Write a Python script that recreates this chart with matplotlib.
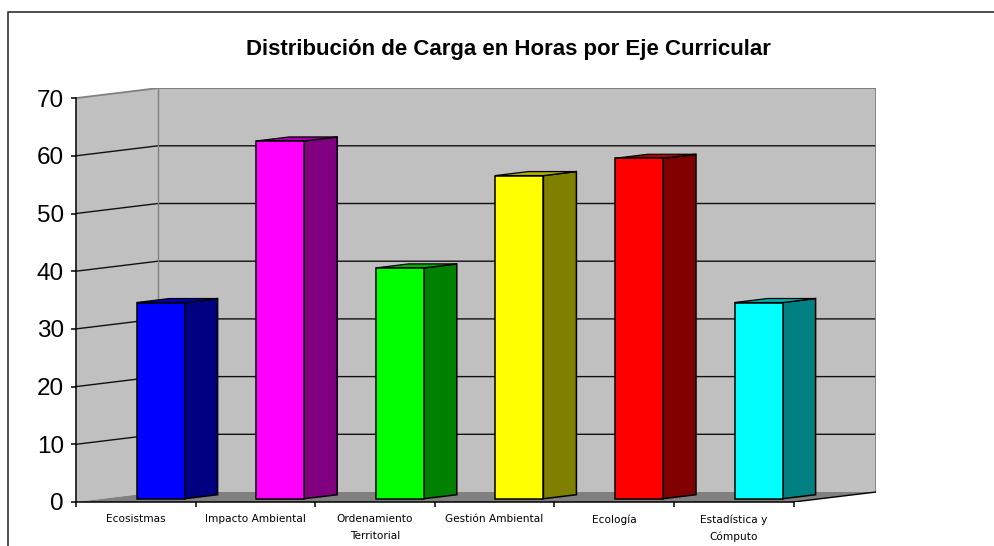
import matplotlib
matplotlib.use("Agg")
import matplotlib.pyplot as plt
from matplotlib.lines import Line2D

categories = ["Ecosistmas", "Impacto Ambiental", "Ordenamiento\nTerritorial",
              "Gestión Ambiental", "Ecología", "Estadística y\nCómputo"]
horas = [34, 62, 40, 56, 59, 34]
front_colors = ["#0000FF", "#FF00FF", "#00FF00", "#FFFF00", "#FF0000", "#00FFFF"]
side_colors = ["#000080", "#800080", "#008000", "#808000", "#800000", "#008080"]
top_colors = ["#0000B0", "#A800A8", "#00B000", "#B0B000", "#B00000", "#00B0B0"]
y_ticks = [0, 10, 20, 30, 40, 50, 60, 70]

W, H = 995, 546
# profundidad del piso y de las barras, en unidades de datos
px_x = 119.6
px_y = 5.77
wall_dx = 82 / px_x
wall_dy = 10 / px_y
bar_w = 48 / px_x
bar_dx = 33 / px_x
bar_dy = 4 / px_y
bar_base = 3.3 / px_y
bar_off = 24.8 / px_x

fig = plt.figure(figsize=(W / 100, H / 100), dpi=100)
ax = fig.add_axes([76 / W, (H - 502) / H, 800 / W, 414 / H])
ax.patch.set_alpha(0)
ax.set_xlim(0, 800 / px_x)
ax.set_ylim(0, 414 / px_y)

x_end = 6
wall_end = 800 / px_x
top = y_ticks[-1]

# paredes y piso
ax.fill([0, wall_dx, wall_dx, 0], [0, wall_dy, top + wall_dy, top],
        color="#C0C0C0", lw=0, zorder=1)
ax.fill([wall_dx, wall_end, wall_end, wall_dx],
        [wall_dy, wall_dy, top + wall_dy, top + wall_dy], color="#C0C0C0", lw=0, zorder=1)
ax.fill([0, wall_dx, wall_end, x_end], [0, wall_dy, wall_dy, 0], color="#808080", lw=0, zorder=2)

# lineas de la reja
for v in y_ticks[1:-1]:
    ax.plot([0, wall_dx, wall_end], [v, v + wall_dy, v + wall_dy], color="#101010", lw=1.0, zorder=3)
ax.plot([0, wall_dx, wall_end, wall_end], [top, top + wall_dy, top + wall_dy, wall_dy],
        color="#808080", lw=1.3, zorder=3)
ax.plot([wall_dx, wall_dx], [wall_dy, top + wall_dy], color="#808080", lw=1.0, zorder=3)
ax.plot([x_end, wall_end], [0, wall_dy], color="black", lw=1.0, zorder=3)

# barras
for i, v in enumerate(horas):
    left = i + 0.5 - bar_w / 2 + bar_off
    right = left + bar_w
    t = bar_base + v
    ax.fill([right, right + bar_dx, right + bar_dx, right],
            [bar_base, bar_base + bar_dy, t + bar_dy, t],
            facecolor=side_colors[i], edgecolor="black", lw=1.1, zorder=4)
    ax.fill([left, left + bar_dx, right + bar_dx, right],
            [t, t + bar_dy, t + bar_dy, t],
            facecolor=top_colors[i], edgecolor="black", lw=0.9, zorder=4)
    ax.bar(left, t - bar_base, width=bar_w, bottom=bar_base, align="edge",
           color=front_colors[i], edgecolor="black", lw=1.1, zorder=5)

# ejes
for s in ["top", "right"]:
    ax.spines[s].set_visible(False)
ax.spines["left"].set_bounds(0, top)
ax.spines["bottom"].set_bounds(0, x_end)
for s in ["left", "bottom"]:
    ax.spines[s].set_linewidth(1.1)
    ax.spines[s].set_zorder(6)
ax.set_yticks(y_ticks)
ax.tick_params(axis="y", labelsize=17.5, length=3.6, width=1.1, pad=5)
for lab in ax.get_yticklabels():
    lab.set_fontfamily("Liberation Sans")
ax.set_xticks(range(x_end + 1))
ax.set_xticklabels([])
ax.tick_params(axis="x", length=3.6, width=1.1)
ax.set_xticks([i + 0.5 for i in range(x_end)], minor=True)
ax.set_xticklabels(categories, minor=True, fontsize=7.6, family="DejaVu Sans", linespacing=1.82)
ax.tick_params(axis="x", which="minor", length=0, pad=9)

fig.text(508.5 / W, 1 - 49.5 / H, "Distribución de Carga en Horas por Eje Curricular",
         ha="center", va="center", fontsize=16, fontweight="bold", family="Liberation Sans")

# marco exterior, solo arriba y a la izquierda
fig.add_artist(Line2D([8 / W, 8 / W, 1], [0, 1 - 11.5 / H, 1 - 11.5 / H], color="#303030", lw=1.2))

fig.savefig("out.png", dpi=100)
